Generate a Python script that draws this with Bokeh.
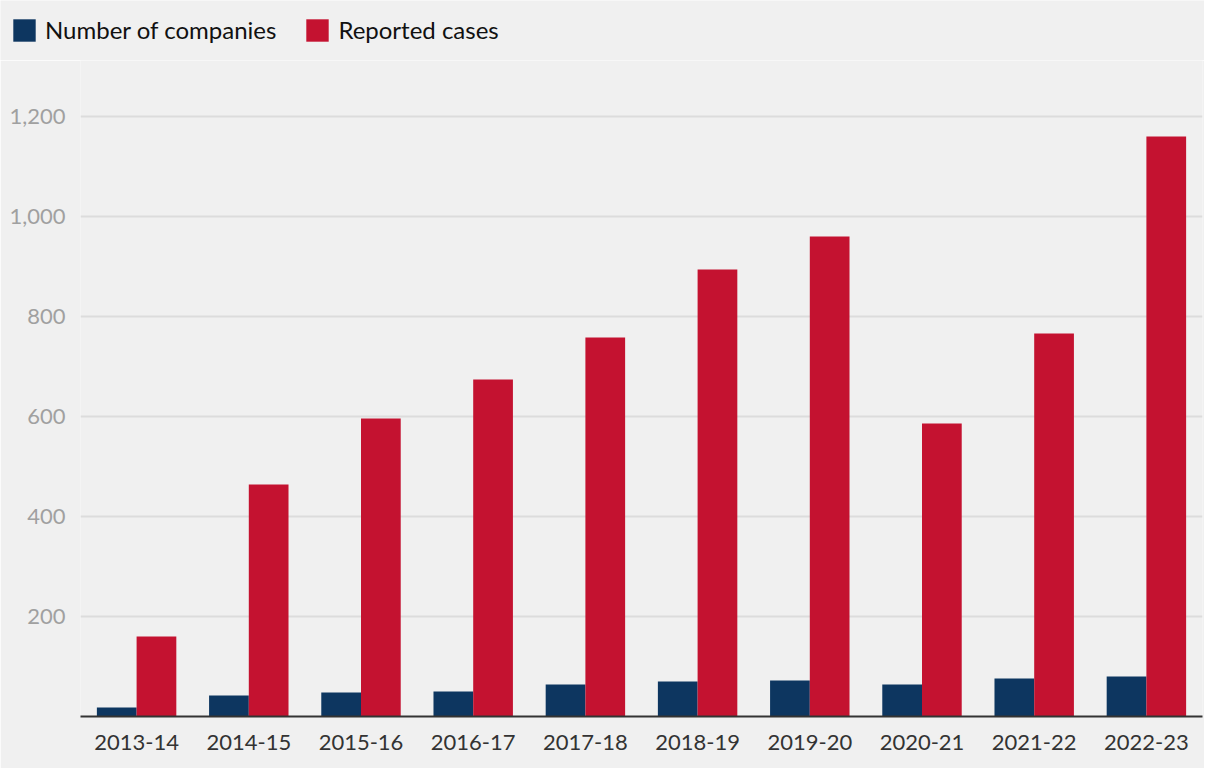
from bokeh.plotting import figure
from bokeh.layouts import column
from bokeh.models import (ColumnDataSource, FactorRange, FixedTicker, Legend, LegendItem,
                          NumeralTickFormatter, Range1d)
from bokeh.transform import dodge
from bokeh.embed import file_html
from bokeh.resources import INLINE

years = ["2013-14", "2014-15", "2015-16", "2016-17", "2017-18",
         "2018-19", "2019-20", "2020-21", "2021-22", "2022-23"]
companies = [18, 42, 48, 50, 64, 70, 72, 64, 76, 80]
cases = [160, 464, 596, 674, 758, 894, 960, 586, 766, 1160]
y_ticks = [200, 400, 600, 800, 1000, 1200]
series_names = ["Number of companies", "Reported cases"]

BG = "#f0f0f0"
NAVY = "#0d3660"
RED = "#c41230"
FONT = "Lato"

src = ColumnDataSource(dict(year=years, companies=companies, cases=cases))
bw = 0.354

# ---- main chart ----
p = figure(width=1204, height=708, x_range=FactorRange(*years, range_padding=0),
           y_range=(0, 1312), output_backend="svg", toolbar_location=None,
           min_border_left=80, min_border_right=2, min_border_top=0, min_border_bottom=52)
p.frame_align = False
p.background_fill_color = BG
p.border_fill_color = BG
p.outline_line_color = None

p.vbar(x=dodge("year", -bw / 2, range=p.x_range), top="companies", width=bw,
       source=src, fill_color=NAVY, line_color=None)
p.vbar(x=dodge("year", bw / 2, range=p.x_range), top="cases", width=bw,
       source=src, fill_color=RED, line_color=None)

p.xgrid.grid_line_color = None
p.ygrid.grid_line_color = "#dcdcdc"
p.ygrid.grid_line_width = 2
p.ygrid.ticker = FixedTicker(ticks=y_ticks)

p.yaxis.ticker = FixedTicker(ticks=y_ticks)
p.yaxis.formatter = NumeralTickFormatter(format="0,0")
p.yaxis.axis_line_color = None
p.yaxis.major_tick_line_color = None
p.yaxis.minor_tick_line_color = None
p.yaxis.major_label_text_font = FONT
p.yaxis.major_label_text_font_size = "22px"
p.yaxis.major_label_text_color = "#a0a0a0"
p.yaxis.major_label_standoff = 9

p.xaxis.axis_line_color = "#333333"
p.xaxis.axis_line_width = 2
p.xaxis.major_tick_line_color = None
p.xaxis.minor_tick_line_color = None
p.xaxis.major_label_text_font = FONT
p.xaxis.major_label_text_font_size = "22px"
p.xaxis.major_label_text_color = "#333333"
p.xaxis.major_label_standoff = 12

# ---- legend strip (same series; its bars are kept out of view) ----
lg = figure(width=1204, height=60, x_range=FactorRange(*years, range_padding=0),
            y_range=Range1d(-2000, -1000),
            output_backend="svg", toolbar_location=None, x_axis_type=None, y_axis_type=None,
            min_border_left=0, min_border_right=0, min_border_top=0, min_border_bottom=0)
lg.frame_align = False
lg.background_fill_color = BG
lg.border_fill_color = BG
lg.outline_line_color = None
lg.grid.visible = False
d1 = lg.vbar(x="year", top="companies", width=0, source=src,
             fill_color=NAVY, line_color=None)
d2 = lg.vbar(x="year", top="cases", width=0, source=src,
             fill_color=RED, line_color=None)

legend = Legend(items=[LegendItem(label=series_names[0], renderers=[d1]),
                       LegendItem(label=series_names[1], renderers=[d2])],
                orientation="horizontal", location=(10, 16))
legend.background_fill_alpha = 0
legend.border_line_color = None
legend.glyph_width = 28
legend.glyph_height = 28
legend.label_standoff = 7
legend.spacing = 27
legend.padding = 0
legend.margin = 0
legend.label_text_font = FONT
legend.label_text_font_size = "24px"
legend.label_text_color = "#111111"
lg.add_layout(legend, "center")

layout = column(lg, p, spacing=0)
open("out.html", "w").write(file_html(layout, INLINE))
